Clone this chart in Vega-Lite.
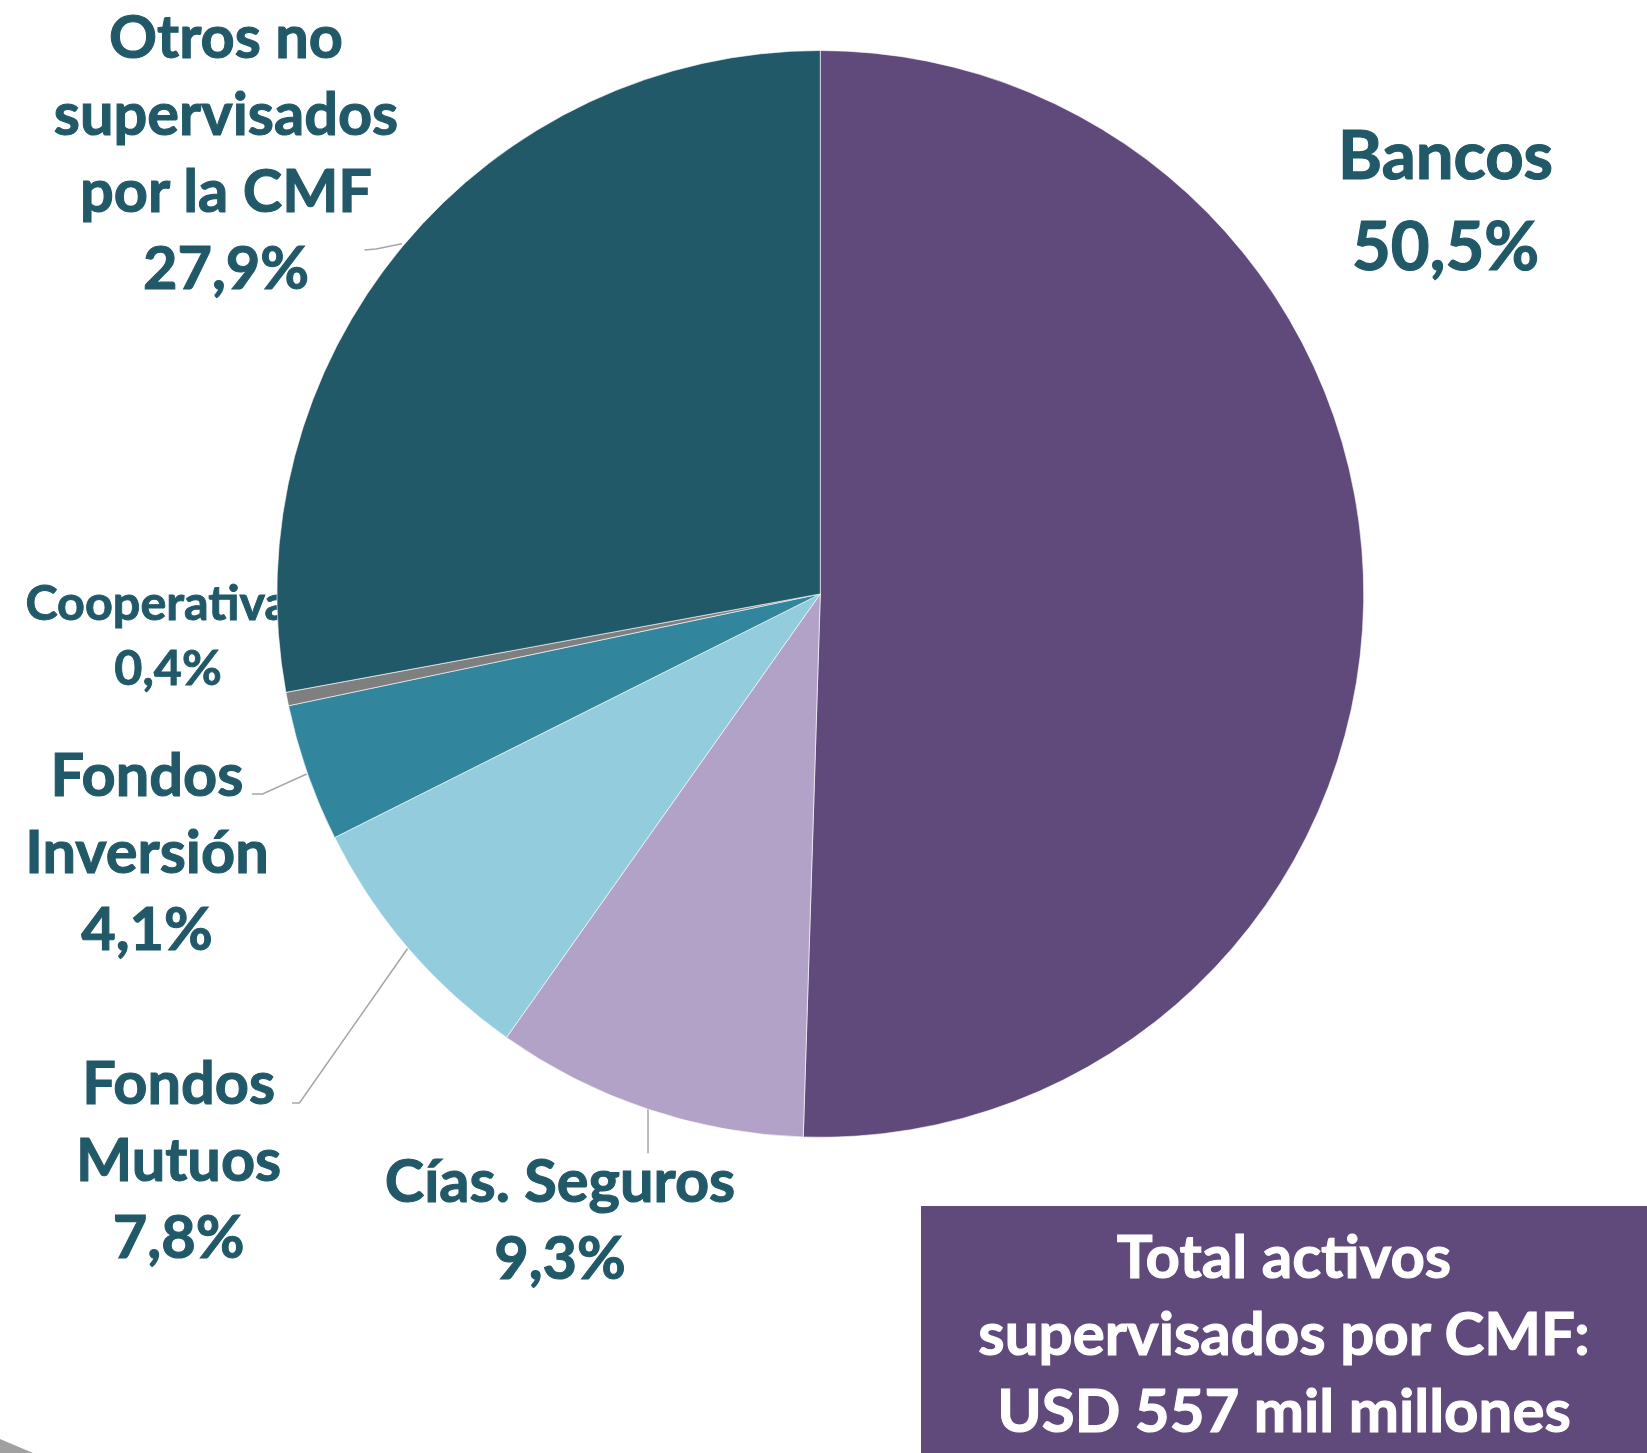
{
  "$schema": "https://vega.github.io/schema/vega-lite/v6.json",
  "width": 1647,
  "height": 1453,
  "padding": 0,
  "autosize": {"type": "none"},
  "background": "#ffffff",
  "config": {"view": {"stroke": null}, "axis": {"disable": true}},
  "datasets": {
    "sectores": [
      {"nombre": "Bancos", "valor": 50.5, "orden": 1, "etiqueta": "Bancos\n50,5%", "lx": 115.06, "ly": 76.35},
      {"nombre": "Cías. Seguros", "valor": 9.3, "orden": 2, "etiqueta": "Cías. Seguros\n9,3%", "lx": -47.9, "ly": -111.91},
      {"nombre": "Fondos Mutuos", "valor": 7.8, "orden": 3, "etiqueta": "Fondos\nMutuos\n7,8%", "lx": -118.09, "ly": -93.87},
      {"nombre": "Fondos Inversión", "valor": 4.1, "orden": 4, "etiqueta": "Fondos\nInversión\n4,1%", "lx": -123.91, "ly": -37.19},
      {"nombre": "Cooperativas", "valor": 0.4, "orden": 5, "etiqueta": "Cooperativas\n0,4%", "lx": -120.04, "ly": -4.8},
      {"nombre": "Otros no supervisados por la CMF", "valor": 27.9, "orden": 6, "etiqueta": "Otros no\nsupervisados\npor la CMF\n27,9%", "lx": -109.37, "ly": 98.62}
    ],
    "guias": [
      {"linea": "Otros", "paso": 1, "gx": -83.88, "gy": 63.29},
      {"linea": "Otros", "paso": 2, "gx": -81.77, "gy": 63.47},
      {"linea": "Otros", "paso": 3, "gx": -76.99, "gy": 64.45},
      {"linea": "Inversion", "paso": 1, "gx": -104.58, "gy": -36.82},
      {"linea": "Inversion", "paso": 2, "gx": -102.63, "gy": -36.82},
      {"linea": "Inversion", "paso": 3, "gx": -94.52, "gy": -33.14},
      {"linea": "Mutuos", "paso": 1, "gx": -97.22, "gy": -93.69},
      {"linea": "Mutuos", "paso": 2, "gx": -95.86, "gy": -93.69},
      {"linea": "Mutuos", "paso": 3, "gx": -75.95, "gy": -65.26},
      {"linea": "Seguros", "paso": 1, "gx": -31.71, "gy": -94.63},
      {"linea": "Seguros", "paso": 2, "gx": -31.71, "gy": -102.91}
    ],
    "caja": [
      {"x1": 18.53, "x2": 152.13, "y1": -112.64, "y2": -158.09, "texto": "Total activos\nsupervisados por CMF:\nUSD 557 mil millones", "tx": 85.33, "ty": -125.89}
    ],
    "esquina": [
      {"ex": -150.96, "ey": -155.52, "ey2": -158.09},
      {"ex": -144.89, "ey": -158.09, "ey2": -158.09}
    ]
  },
  "layer": [
    {
      "data": {"name": "esquina"},
      "mark": {"type": "area", "color": "#A0A0A0"},
      "encoding": {
        "x": {"field": "ex", "type": "quantitative", "scale": {"domain": [-150.96, 152.13], "nice": false, "zero": false}},
        "y": {"field": "ey", "type": "quantitative", "scale": {"domain": [-158.09, 109.29], "nice": false, "zero": false}},
        "y2": {"field": "ey2"}
      }
    },
    {
      "data": {"name": "caja"},
      "mark": {"type": "rect", "color": "#604A7B"},
      "encoding": {
        "x": {"field": "x1", "type": "quantitative"},
        "x2": {"field": "x2"},
        "y": {"field": "y1", "type": "quantitative"},
        "y2": {"field": "y2"}
      }
    },
    {
      "data": {"name": "sectores"},
      "transform": [{"filter": "datum.nombre == 'Bancos'"}],
      "mark": {"type": "text", "font": "Lato", "fontWeight": "bold", "fontSize": 67, "lineHeight": 91, "lineBreak": "\n", "align": "center", "baseline": "alphabetic", "color": "#215968", "stroke": "#215968", "strokeWidth": 1.2},
      "encoding": {
        "x": {"field": "lx", "type": "quantitative"},
        "y": {"field": "ly", "type": "quantitative"},
        "text": {"field": "etiqueta"}
      }
    },
    {
      "data": {"name": "sectores"},
      "transform": [{"filter": "datum.nombre != 'Bancos' && datum.nombre != 'Cooperativas'"}],
      "mark": {"type": "text", "font": "Lato", "fontWeight": "bold", "fontSize": 59.5, "lineHeight": 77, "lineBreak": "\n", "align": "center", "baseline": "alphabetic", "color": "#215968", "stroke": "#215968", "strokeWidth": 1.1},
      "encoding": {
        "x": {"field": "lx", "type": "quantitative"},
        "y": {"field": "ly", "type": "quantitative"},
        "text": {"field": "etiqueta"}
      }
    },
    {
      "data": {"name": "sectores"},
      "transform": [{"filter": "datum.nombre == 'Cooperativas'"}],
      "mark": {"type": "text", "font": "Lato", "fontWeight": "bold", "fontSize": 48.5, "lineHeight": 65, "lineBreak": "\n", "align": "center", "baseline": "alphabetic", "color": "#215968", "stroke": "#215968", "strokeWidth": 0.9},
      "encoding": {
        "x": {"field": "lx", "type": "quantitative"},
        "y": {"field": "ly", "type": "quantitative"},
        "text": {"field": "etiqueta"}
      }
    },
    {
      "data": {"name": "guias"},
      "mark": {"type": "line", "color": "#A6A6A6", "strokeWidth": 1.5},
      "encoding": {
        "x": {"field": "gx", "type": "quantitative"},
        "y": {"field": "gy", "type": "quantitative"},
        "detail": {"field": "linea"},
        "order": {"field": "paso"}
      }
    },
    {
      "data": {"name": "sectores"},
      "mark": {"type": "arc", "outerRadius": 543.4, "stroke": "#ffffff", "strokeWidth": 0.6},
      "encoding": {
        "x": {"datum": 0, "type": "quantitative"},
        "y": {"datum": 0, "type": "quantitative"},
        "theta": {"field": "valor", "type": "quantitative", "stack": true},
        "order": {"field": "orden"},
        "color": {
          "field": "nombre",
          "type": "nominal",
          "legend": null,
          "scale": {
            "domain": ["Bancos", "Cías. Seguros", "Fondos Mutuos", "Fondos Inversión", "Cooperativas", "Otros no supervisados por la CMF"],
            "range": ["#604A7B", "#B3A2C7", "#93CDDD", "#31859C", "#7F7F7F", "#215968"]
          }
        }
      }
    },
    {
      "data": {"name": "caja"},
      "mark": {"type": "text", "font": "Lato", "fontWeight": "bold", "fontSize": 60, "lineHeight": 77, "lineBreak": "\n", "align": "center", "baseline": "alphabetic", "color": "#ffffff", "stroke": "#ffffff", "strokeWidth": 1.1},
      "encoding": {
        "x": {"field": "tx", "type": "quantitative"},
        "y": {"field": "ty", "type": "quantitative"},
        "text": {"field": "texto"}
      }
    }
  ]
}
